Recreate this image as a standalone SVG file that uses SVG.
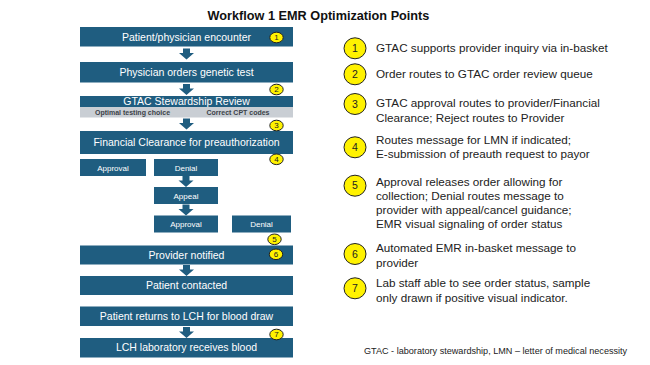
<svg xmlns="http://www.w3.org/2000/svg" width="650" height="365" viewBox="0 0 650 365">
<style>
.box{fill:#1F5D80}
.gray{fill:#C9CED4}
.bt{font-family:"Liberation Sans",Arial,sans-serif;font-size:10.5px;fill:#fff;text-anchor:middle}
.st{font-family:"Liberation Sans",Arial,sans-serif;font-size:8px;fill:#fff;text-anchor:middle}
.gt{font-family:"Liberation Sans",Arial,sans-serif;font-size:7px;font-weight:bold;fill:#3C4248;text-anchor:middle}
.badge{fill:#FFF200;stroke:#222;stroke-width:1}
.bn{font-family:"Liberation Sans",Arial,sans-serif;font-size:8px;fill:#222;text-anchor:middle}
.bnl{font-family:"Liberation Sans",Arial,sans-serif;font-size:10.5px;fill:#222;text-anchor:middle}
.rt{font-family:"Liberation Sans",Arial,sans-serif;font-size:11.7px;fill:#222}
.arr{fill:#1F5D80}
</style>
<defs>
<path id="arrow" d="M-3.5,0 H3.5 V4.5 H7.5 L0,11 L-7.5,4.5 H-3.5 Z"/>
</defs>
<text x="318.5" y="20" font-family="'Liberation Sans',Arial,sans-serif" font-size="12.7" font-weight="bold" fill="#111" text-anchor="middle">Workflow 1 EMR Optimization Points</text>

<g id="connectors" class="arr">
<use href="#arrow" x="186.5" y="48.5"/>
<use href="#arrow" x="186.5" y="84"/>
<use href="#arrow" x="186.5" y="118.5"/>
<use href="#arrow" x="186" y="176"/>
<use href="#arrow" x="186" y="204.5"/>
<use href="#arrow" x="186.5" y="265"/>
<use href="#arrow" x="186.5" y="327"/>
</g>

<g id="n-encounter"><rect class="box" x="80" y="27" width="213" height="19.5"/><text class="bt" x="186.5" y="40.5">Patient/physician encounter</text></g>
<g id="n-orders"><rect class="box" x="80" y="62" width="213" height="20.5"/><text class="bt" x="186.5" y="76">Physician orders genetic test</text></g>
<g id="n-gtac">
<rect class="box" x="80" y="96" width="213" height="11"/>
<text class="bt" x="186.5" y="105">GTAC Stewardship Review</text>
<rect class="gray" x="80" y="107" width="213" height="10.5"/>
<text class="gt" x="132.5" y="114.8">Optimal testing choice</text>
<text class="gt" x="238" y="114.8">Correct CPT codes</text>
</g>
<g id="n-financial"><rect class="box" x="80" y="131" width="213" height="23"/><text class="bt" x="186.5" y="146">Financial Clearance for preauthorization</text></g>
<g id="n-approval1"><rect class="box" x="80" y="159" width="66" height="17"/><text class="st" x="113" y="170.5">Approval</text></g>
<g id="n-denial1"><rect class="box" x="154" y="159" width="64" height="17"/><text class="st" x="186" y="170.5">Denial</text></g>
<g id="n-appeal"><rect class="box" x="154" y="187" width="64" height="17"/><text class="st" x="186" y="198.5">Appeal</text></g>
<g id="n-approval2"><rect class="box" x="154" y="215.5" width="64" height="17"/><text class="st" x="186" y="227">Approval</text></g>
<g id="n-denial2"><rect class="box" x="232" y="215.5" width="59" height="17"/><text class="st" x="261.5" y="227">Denial</text></g>
<g id="n-provider"><rect class="box" x="80" y="245.5" width="213" height="19"/><text class="bt" x="186.5" y="258.5">Provider notified</text></g>
<g id="n-contacted"><rect class="box" x="80" y="276" width="213" height="19"/><text class="bt" x="186.5" y="289">Patient contacted</text></g>
<g id="n-returns"><rect class="box" x="80" y="306.5" width="213" height="19.5"/><text class="bt" x="186.5" y="319.8">Patient returns to LCH for blood draw</text></g>
<g id="n-lab"><rect class="box" x="80" y="338" width="213" height="19.5"/><text class="bt" x="186.5" y="351.3">LCH laboratory receives blood</text></g>

<g id="badges-flow">
<ellipse class="badge" cx="276.5" cy="37.5" rx="6.7" ry="5.3"/><text class="bn" x="276.5" y="40.3">1</text>
<ellipse class="badge" cx="276.5" cy="89.5" rx="6.7" ry="5.3"/><text class="bn" x="276.5" y="92.3">2</text>
<ellipse class="badge" cx="276.5" cy="125.5" rx="6.7" ry="5.3"/><text class="bn" x="276.5" y="128.3">3</text>
<ellipse class="badge" cx="276.5" cy="159.3" rx="6.7" ry="5.3"/><text class="bn" x="276.5" y="162.1">4</text>
<ellipse class="badge" cx="274.5" cy="239.3" rx="6.7" ry="5.3"/><text class="bn" x="274.5" y="242.1">5</text>
<ellipse class="badge" cx="276" cy="254.3" rx="6.7" ry="5.3"/><text class="bn" x="276" y="257.1">6</text>
<ellipse class="badge" cx="276.5" cy="334.5" rx="6.7" ry="5.3"/><text class="bn" x="276.5" y="337.3">7</text>
</g>

<g id="legend">
<ellipse class="badge" cx="355" cy="48.3" rx="11" ry="10.5"/><text class="bnl" x="355" y="52">1</text>
<text class="rt" x="376" y="51.7">GTAC supports provider inquiry via in-basket</text>
<ellipse class="badge" cx="355" cy="74.3" rx="11" ry="10.5"/><text class="bnl" x="355" y="78">2</text>
<text class="rt" x="376" y="77.5">Order routes to GTAC order review queue</text>
<ellipse class="badge" cx="355" cy="104" rx="11" ry="10.5"/><text class="bnl" x="355" y="107.7">3</text>
<text class="rt" x="376" y="106.7">GTAC approval routes to provider/Financial</text>
<text class="rt" x="376" y="121.7">Clearance; Reject routes to Provider</text>
<ellipse class="badge" cx="355" cy="147.3" rx="11" ry="10.5"/><text class="bnl" x="355" y="151">4</text>
<text class="rt" x="376" y="143.5">Routes message for LMN if indicated;</text>
<text class="rt" x="376" y="158.3">E-submission of preauth request to payor</text>
<ellipse class="badge" cx="355" cy="185.7" rx="11" ry="10.5"/><text class="bnl" x="355" y="189.4">5</text>
<text class="rt" x="376" y="185.7">Approval releases order allowing for</text>
<text class="rt" x="376" y="199.7">collection; Denial routes message to</text>
<text class="rt" x="376" y="213.8">provider with appeal/cancel guidance;</text>
<text class="rt" x="376" y="227.8">EMR visual signaling of order status</text>
<ellipse class="badge" cx="355" cy="254" rx="11" ry="10.5"/><text class="bnl" x="355" y="257.7">6</text>
<text class="rt" x="376" y="251.8">Automated EMR in-basket message to</text>
<text class="rt" x="376" y="266.7">provider</text>
<ellipse class="badge" cx="355" cy="288.3" rx="11" ry="10.5"/><text class="bnl" x="355" y="292">7</text>
<text class="rt" x="376" y="286.8">Lab staff able to see order status, sample</text>
<text class="rt" x="376" y="301.7">only drawn if positive visual indicator.</text>
</g>

<text x="364" y="353.5" font-family="'Liberation Sans',Arial,sans-serif" font-size="9.1" fill="#222">GTAC - laboratory stewardship, LMN – letter of medical necessity</text>
</svg>
